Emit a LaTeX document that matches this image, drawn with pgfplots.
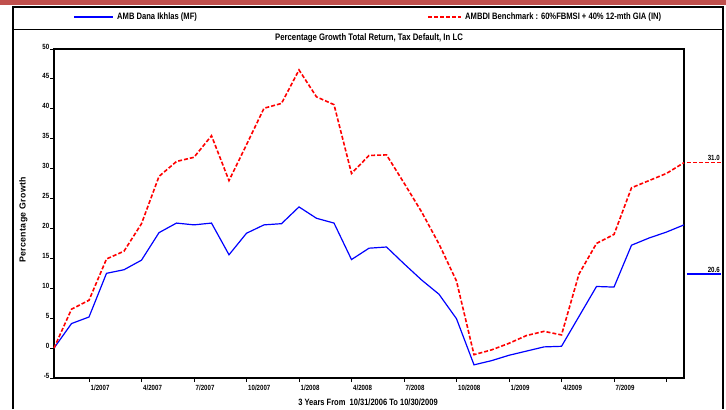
\documentclass[border=0pt]{standalone}
\usepackage{pgfplots}
\pgfplotsset{compat=1.18}
\usepackage{fontspec}
\setmainfont{Liberation Sans}[FakeStretch=0.82]
\newfontfamily\widefont{Liberation Sans}[LetterSpace=4]
\definecolor{band}{RGB}{192,80,77}
\begin{document}
\begin{tikzpicture}[x=1bp,y=1bp]
\path[use as bounding box] (0,0) rectangle (726,409);
\fill[band] (0,404) rectangle (726,409);
\draw[line width=1.2bp] (13,0) -- (13,402) -- (723,402) -- (723,0);
\draw[line width=1bp] (13,379) -- (723,379);
\draw[blue,line width=1.6bp] (74,392) -- (113,392);
\node[anchor=west,inner sep=0pt,font=\bfseries\fontsize{9.3}{10}\selectfont] at (117,392) {AMB Dana Ikhlas (MF)};
\draw[red,line width=1.6bp,dash pattern=on 4bp off 2bp] (428,392) -- (461,392);
\node[anchor=west,inner sep=0pt,font=\bfseries\fontsize{9.3}{10}\selectfont] at (465,392) {AMBDI Benchmark : 60\%FBMSI + 40\% 12-mth GIA (IN)};
\node[inner sep=0pt,font=\bfseries\fontsize{9.5}{10}\selectfont] at (369,370.5) {Percentage Growth Total Return, Tax Default, In LC};
\node[inner sep=0pt,rotate=90,font=\widefont\bfseries\fontsize{8.8}{9}\selectfont] at (23.5,189) {Percentage Growth};
\node[inner sep=0pt,font=\bfseries\fontsize{9.2}{10}\selectfont] at (368,7) {3 Years From \ 10/31/2006 To 10/30/2009};
\begin{axis}[
  at={(54bp,31bp)}, anchor=south west,
  width=630bp, height=329bp, scale only axis,
  xmin=0, xmax=36, ymin=-5, ymax=50,
  clip=false,
  axis line style={line width=1.2bp},
  xtick={2,5,8,11,14,17,20,23,26,29,32,35},
  xticklabels={1/2007,4/2007,7/2007,10/2007,1/2008,4/2008,7/2008,10/2008,1/2009,4/2009,7/2009,},
  ytick={-5,0,5,10,15,20,25,30,35,40,45,50},
  tick align=outside, major tick length=4bp,
  xtick pos=bottom, ytick pos=left,
  tick style={black,line width=1bp},
  /pgf/number format/assume math mode=true,
  xticklabel style={anchor=north west, inner sep=0pt, xshift=1.5bp, yshift=-3bp, font=\bfseries\fontsize{7.5}{8}\selectfont},
  yticklabel style={anchor=base east, inner sep=0pt, xshift=-0.5bp, font=\bfseries\fontsize{7.5}{8}\selectfont},
]
\addplot[blue, line width=1.2bp] coordinates {
(0,0) (1,4.1) (2,5.2) (3,12.5) (4,13.1) (5,14.7) (6,19.3) (7,20.9) (8,20.6) (9,20.9)
(10,15.6) (11,19.2) (12,20.6) (13,20.8) (14,23.6) (15,21.7) (16,20.9) (17,14.8) (18,16.7)
(19,16.9) (20,14.1) (21,11.4) (22,9.0) (23,4.9) (24,-2.8) (25,-2.1) (26,-1.2) (27,-0.5)
(28,0.2) (29,0.3) (30,5.3) (31,10.3) (32,10.2) (33,17.2) (34,18.4) (35,19.4) (36,20.6)};
\addplot[red, line width=1.6bp, dash pattern=on 4bp off 2bp] coordinates {
(0,0) (1,6.5) (2,8.0) (3,14.9) (4,16.2) (5,20.8) (6,28.7) (7,31.2) (8,31.9) (9,35.5)
(10,28.0) (11,34.0) (12,40.1) (13,40.9) (14,46.5) (15,42.0) (16,40.7) (17,29.2) (18,32.2)
(19,32.3) (20,27.6) (21,22.8) (22,17.4) (23,11.2) (24,-1.1) (25,-0.3) (26,0.8) (27,2.1)
(28,2.8) (29,2.2) (30,12.4) (31,17.5) (32,19.0) (33,26.8) (34,28.0) (35,29.2) (36,31.0)};
\addplot[red, line width=1.6bp, dash pattern=on 4bp off 2bp] coordinates {(36.17,31.0) (38.1,31.0)};
\addplot[blue, line width=1.6bp] coordinates {(36.17,12.4) (38.1,12.4)};
\node[anchor=south east, inner sep=0pt, yshift=1.5bp, font=\bfseries\fontsize{7.5}{8}\selectfont] at (axis cs:38.05,31.0) {31.0};
\node[anchor=south east, inner sep=0pt, yshift=1.5bp, font=\bfseries\fontsize{7.5}{8}\selectfont] at (axis cs:38.05,12.4) {20.6};
\end{axis}
\end{tikzpicture}
\end{document}
